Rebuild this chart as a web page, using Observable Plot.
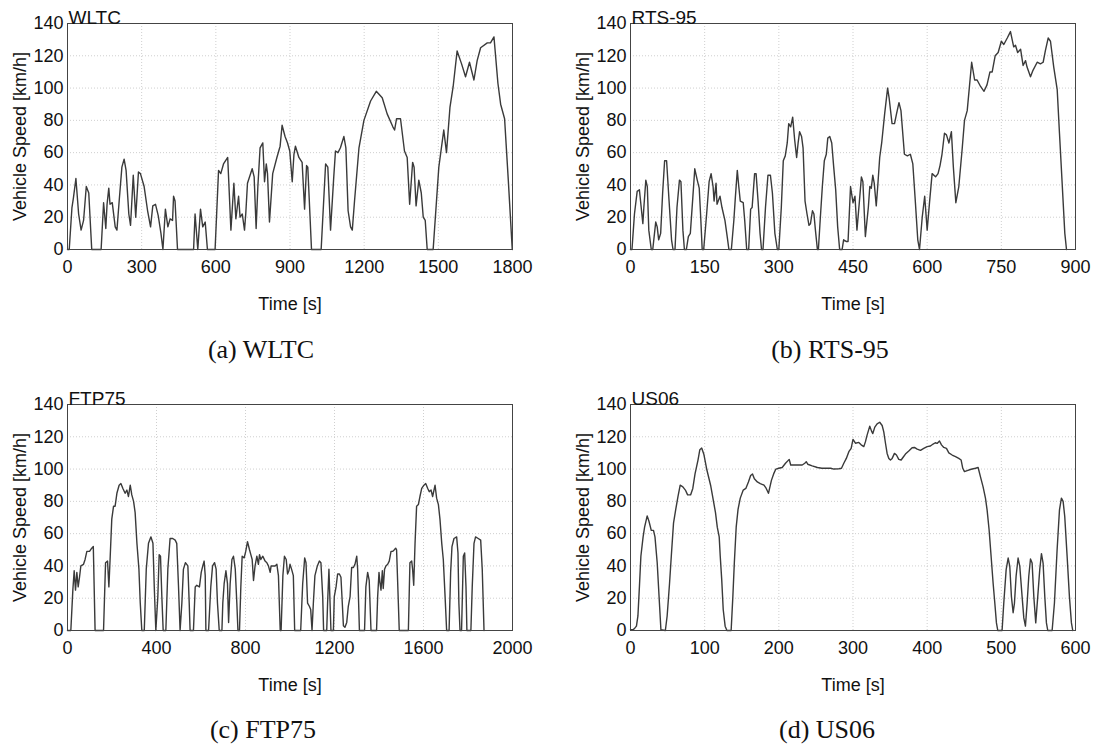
<!DOCTYPE html>
<html>
<head>
<meta charset="utf-8">
<script src="https://cdn.jsdelivr.net/npm/d3@7"></script>
<script src="https://cdn.jsdelivr.net/npm/@observablehq/plot@0.6"></script>
<style>
  html, body { margin: 0; padding: 0; background: #fff; }
  #root { position: relative; width: 1097px; height: 751px; background: #fff; overflow: hidden; }
  .panel { position: absolute; }
  .cap { position: absolute; font-family: "Liberation Serif", "Times New Roman", serif; font-size: 26px; line-height: 30px; color: #111; text-align: center; white-space: nowrap; }
</style>
</head>
<body>
<div id="root"></div>
<script>
// ---------- Data ----------
const yTicks = [0, 20, 40, 60, 80, 100, 120, 140];

const wltcTicks = [0, 300, 600, 900, 1200, 1500, 1800];
const wltcTime = [0,7,18,24,34,45,55,65,76,86,98,136,146,155,160,167,172,181,193,200,209,220,229,237,248,255,266,276,287,295,310,324,336,345,356,367,378,386,396,406,415,425,429,435,445,510,516,527,538,547,557,566,597,611,620,631,648,661,673,681,692,698,707,716,721,728,747,755,763,770,779,790,797,804,809,817,830,847,860,868,880,890,899,909,916,922,936,949,959,967,972,987,1026,1044,1053,1064,1077,1084,1094,1104,1118,1126,1135,1145,1152,1161,1179,1199,1226,1249,1273,1293,1316,1323,1331,1347,1363,1374,1384,1396,1402,1410,1421,1431,1439,1447,1455,1479,1502,1522,1533,1547,1560,1576,1594,1610,1626,1644,1657,1671,1698,1711,1725,1741,1752,1768,1783,1799];
const wltcSpeed = [0,0,26,32,44,22,12,18,39,35,0,0,29,13,28,38,28,29,14,12,30,51,56,49,22,15,46,20,48,47,39,24,14,27,28,21,10,0,25,14,19,18,33,30,0,0,22,0,25,14,17,0,0,49,47,53,57,12,41,19,33,20,22,12,22,41,50,45,13,39,63,66,42,53,47,17,47,57,64,77,70,66,61,42,59,64,57,54,25,52,51,0,0,53,51,12,45,61,60,63,70,63,24,14,12,30,63,80,92,98,94,84,76,74,81,81,61,57,28,54,51,27,43,35,20,18,0,0,51,74,60,88,101,123,115,107,116,105,117,125,128,128,131.7,103,90,81,43,0];

const rtsTicks = [0, 150, 300, 450, 600, 750, 900];
const rtsTime = [0,3,8,13.5,18,23,25,27,31,34,37,42,45,51,54,57,61,65,69,73,78,83,86,90,94,99,102,106,109,113,117,121,126,130,135,139,142,145,148,154,159,163,167,169,173,175,181,185,191,196,199,204,209,212,216,219,222,228,231,235,239,243,246,251,254,258,262,265,268,273,278,283,287,292,297,300,305,309,313,317,320,324,328,332,336,339,342,346,349,353,357,361,364,368,371,374,378,380,384,388,392,396,399,403,407,411,415,419,423,428,431,436,440,445,450,454,458,463,467,470,475,481,484,487,490,493,497,500,504,508,514,520,523,529,534,538,543,547,554,560,566,571,576,581,584.5,590,595,600,605,610,617,622,626,630,635,639,644,649,653,658,664,671,675.5,681,690,696,701,708,715,721,727,731.5,737.5,743.6,750,755,762,768.5,775,778.6,783,789,794,799,802,809,814,822.5,829,834.6,839,844.7,849.4,856,863,867.6,873,878.4,881.8];
const rtsSpeed = [0,0,22,36,37,22,16,26,43,39,12,0,0,17,14,6,10,35,55,55,30,6,0,0,26,43,42,12,0,0,8,10,32,50,43,38,20,0,0,22,42,47,39,30,41,28,33,26,18,7,0,0,18,32,49,39,30,29,18,0,0,25,26,47,47,30,10,0,0,26,46,46,35,10,0,0,26,55,58,66,78,76,82,68,57,66,73,70,63,30,22,15,16,24,22,12,0,0,20,39,55,59,69,70,66,51,37,14,0,0,6,5,5,39,29,33,12,30,45,42,8,26,39,38,46,41,27,39,57,66,84,100,94,78,78,84,91,86,59,58,59,53,30,6,0,20,33,12,30,47,45,47,52,59,72,71,66,73,51,29,39,63,80,86,116,105,105,101,98,102,110,110,120,122,129,127,131,135,125.5,126.5,122,124,114,117,113,107,111,116,115,116,123,131,129,113,99,72,41,10,0];

const ftpTicks = [0, 400, 800, 1200, 1600, 2000];
const ftpTime = [0,15,24,30,36,42,48,54,60,72,79,87,99,109,116,124,162,171,180,186,192,199,207,214,222,232,240,249,259,267,274,282,289,297,304,312,321,327,334,345,354,364,375,384,390,397,406,412,418,424,430,442,451,461,473,484,491,499,506,514,521,530,541,547,551,566,574,581,593,601,608,614,619,622,634,644,652,661,668,674,682,694,698,704,712,719,724,731,739,746,754,761,766,773,779,785,794,801,809,818,824,830,836,843,851,858,863,869,878,888,896,903,911,915,923,933,941,948,956,960,968,975,983,989,995,1000,1007,1015,1021,1048,1057,1066,1072,1079,1087,1093,1099,1105,1112,1123,1132,1139,1147,1151,1165,1169,1175,1180,1184,1195,1199,1207,1214,1222,1229,1235,1240,1247,1255,1262,1270,1277,1285,1292,1300,1304,1312,1335,1341,1349,1356,1364,1389,1394,1400,1404,1409,1415,1419,1425,1431,1439,1446,1454,1461,1469,1475,1479,1487,1491,1532,1539,1547,1551,1556,1562,1569,1577,1584,1592,1602,1610,1619,1626,1634,1641,1652,1659,1667,1674,1682,1689,1697,1704,1715,1722,1728,1737,1749,1755,1759,1764,1771,1779,1785,1791,1795,1813,1819,1827,1834,1846,1857,1864,1872];
const ftpSpeed = [0,0,25,37,25,36,27,33,40,41,44,49,49,51,52,0,0,42,43,27,46,69,77,77,85,90,91,88,85,87,83,90,84,80,73,54,38,17,0,0,38,54,58,54,27,0,21,47,46,21,0,0,38,57,57,56,54,27,0,17,38,42,40,17,0,0,27,28,27,36,40,43,34,0,0,27,40,42,38,17,0,0,17,29,37,29,5,29,44,46,38,17,0,0,27,46,45,49,55,50,47,44,31,40,46,41,47,44,46,43,42,40,36,40,40,40,41,34,0,0,34,46,44,35,37,41,38,34,0,0,29,45,42,17,15,13,0,17,34,40,43,42,21,0,0,17,38,17,0,0,21,27,35,35,33,17,3,2,5,15,21,39,39,41,46,38,0,0,27,36,31,0,0,21,36,30,25,37,26,38,40,41,43,49,49,50,51,50,17,0,0,42,43,38,28,54,77,78,83,88,90,91,88,86,87,83,90,82,78,69,54,44,21,0,0,36,52,57,58,48,17,0,0,46,48,27,0,0,27,54,58,57,56,38,0];

const usTicks = [0, 100, 200, 300, 400, 500, 600];
const usTime = [0,3.6,6,8,10,12,14,17,19,22.5,25,28,31,33,36,39,41,47,49.4,52.6,55,58,61,64,67,70.6,74,77,81,84,87,91,93.5,96,99,103,108,111.5,114.6,117,119.6,121,123,125,127.6,130,135.7,138,140,142.5,145,148,152,155.5,159,162,164.5,167,171,175,180,183,186,188,190,193,196,200,204.5,209,214,216,220,225.6,231.5,235,237,239,245,252,258,265,270,274,281,284.5,287.6,291,294.4,297.5,300,303.3,307.8,311,314.6,316.8,319,322.6,325,326.7,329.4,332.5,336,339.3,341.5,343.8,346,348.3,350.5,352.8,355.9,358.6,361.7,364.9,367.6,370.7,375.2,379.7,382.9,386.5,391,395.4,400,404.4,408,411,413.4,416.6,419.3,422.4,426,429.2,433.7,438.2,442.6,445.8,448,450.3,453.9,459.3,465.1,468.7,471.8,475.4,478.6,480.8,483.5,486.2,488.9,491.2,493.4,495.2,501,503.3,506.5,509.2,511.4,513.6,515.9,517.7,519.9,522.6,524.9,528,530.3,532.5,534.8,537,539.3,541.5,543.8,546.4,549.1,551.8,554.1,556.3,558.6,560.8,562.6,568.5,571.6,575.2,578.4,581,583.3,585.5,588.7,591.8,594.5,596.3];
const usSpeed = [0.5,0.5,1.6,2.7,9,27,46,58,64,71,67.5,62,62,58,42,17,0.5,0,9,29,46,66.5,75,83,90,89,87,84,84,88,97,105.6,112,113,109,99.4,90,81,73,64,58,46,31.5,13,2.7,0,0,21,42,64,75,82,87,88,92,96,97,94,92,91,90,88,85,89,93,97,100,100.5,101,103.6,106,102.5,102.5,102.5,102.5,103.6,104.6,103,102,101,100.5,100.5,100.5,100,100.2,100.5,103.6,106.6,110.8,112.8,118.4,116,116.5,115,113.9,117,121,126.6,123.5,122,126,128,129,127,123,116,109.7,106.6,105.6,106.6,109.7,108.7,106,105.6,107.3,109.3,111.2,113.2,113.4,112.4,111.6,112.8,113.9,114.3,115.5,116.3,115.9,117.4,115,113.4,112.8,110,108.7,107.7,106.6,105.6,100.5,98.4,99,99.9,100.5,101,95.3,89,82,74.7,62.4,46,29.4,17,4.7,0,0,17,37.7,44.9,39.7,21,11,17,33.6,44.9,39.7,21,7.8,2.7,17,33.6,44.3,41.8,21,4.7,21,37.7,47.6,41.8,21,4.7,0,0,17,50,74.7,82,80,70.6,46,21,4.7,0];

const panelNames = ["WLTC", "RTS-95", "FTP75", "US06"];
const captions = ["(a) WLTC", "(b) RTS-95", "(c) FTP75", "(d) US06"];

// ---------- Build ----------
const root = document.getElementById("root");
const series = [
  {name: panelNames[0], t: wltcTime, v: wltcSpeed, ticks: wltcTicks},
  {name: panelNames[1], t: rtsTime, v: rtsSpeed, ticks: rtsTicks},
  {name: panelNames[2], t: ftpTime, v: ftpSpeed, ticks: ftpTicks},
  {name: panelNames[3], t: usTime, v: usSpeed, ticks: usTicks}
];
const layout = [
  {left: 0, top: 0, width: 548, ml: 67, mr: 36},
  {left: 548, top: 0, width: 549, ml: 82, mr: 22},
  {left: 0, top: 381, width: 548, ml: 67, mr: 36},
  {left: 548, top: 381, width: 549, ml: 82, mr: 22}
];
const capPos = [
  {cx: 261, top: 335}, {cx: 830, top: 335}, {cx: 263, top: 715}, {cx: 827, top: 715}
];

series.forEach((s, i) => {
  const L = layout[i];
  const data = s.t.map((t, j) => ({t, v: s.v[j]}));
  const xmax = s.ticks[s.ticks.length - 1];
  const chart = Plot.plot({
    width: L.width,
    height: 320,
    marginLeft: L.ml,
    marginRight: L.mr,
    marginTop: 23,
    marginBottom: 71,
    style: {fontFamily: "'Liberation Sans', Arial, sans-serif", fontSize: "18px", color: "#111", background: "transparent", overflow: "visible"},
    x: {domain: [0, xmax]},
    y: {domain: [0, 140]},
    marks: [
      Plot.gridX(s.ticks, {stroke: "#cfcfcf", strokeOpacity: 1, strokeDasharray: "1,2"}),
      Plot.gridY(yTicks, {stroke: "#cfcfcf", strokeOpacity: 1, strokeDasharray: "1,2"}),
      Plot.lineY(data, {x: "t", y: "v", stroke: "#3a3a3a", strokeWidth: 1.4}),
      Plot.frame({stroke: "#444", strokeWidth: 1}),
      Plot.axisX(s.ticks, {tickSize: 0, tickPadding: 11, tickFormat: d => String(d), label: "Time [s]", labelAnchor: "center", labelOffset: 60, labelArrow: "none", fontSize: 18}),
      Plot.axisY(yTicks, {tickSize: 0, tickPadding: 4, tickFormat: d => String(d), label: "Vehicle Speed [km/h]", labelAnchor: "center", labelOffset: 54, labelArrow: "none", fontSize: 18}),
      Plot.text([s.name], {text: d => d, frameAnchor: "top-left", lineAnchor: "bottom", textAnchor: "start", dx: 1, dy: 0, fontSize: 19, fill: "#111"})
    ]
  });
  const wrap = document.createElement("div");
  wrap.className = "panel";
  wrap.style.left = L.left + "px";
  wrap.style.top = L.top + "px";
  wrap.appendChild(chart);
  root.appendChild(wrap);

  const cap = document.createElement("div");
  cap.className = "cap";
  cap.textContent = captions[i];
  cap.style.left = (capPos[i].cx - 150) + "px";
  cap.style.width = "300px";
  cap.style.top = capPos[i].top + "px";
  root.appendChild(cap);
});
</script>
</body>
</html>
